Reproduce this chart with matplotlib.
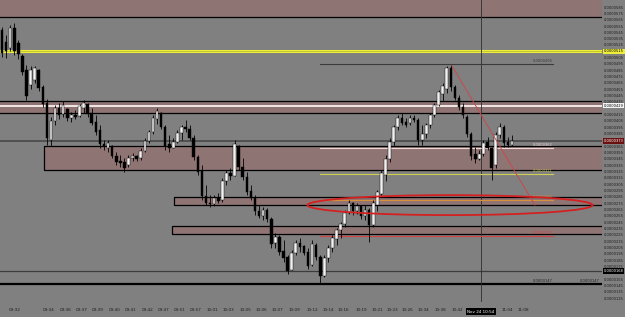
import matplotlib.pyplot as plt
from matplotlib.patches import Ellipse, Rectangle
import numpy as np

# candles, prices in units of 1e-7
opens = [548, 530, 520, 552, 528, 508, 485, 462, 470, 485, 458, 434, 375, 405, 425, 416, 424, 410, 415, 413,
         425, 432, 418, 404, 390, 368, 362, 366, 350, 341, 340, 335, 346, 350, 346, 358, 373, 388, 408, 418,
         396, 368, 363, 372, 386, 395, 392, 378, 348, 326, 287, 276, 274, 284, 280, 310, 322, 318, 366, 333,
         316, 294, 283, 262, 255, 265, 250, 212, 222, 200, 190, 169, 196, 212, 207, 198, 178, 209, 190, 160,
         188, 205, 218, 232, 242, 259, 275, 262, 270, 255, 265, 240, 272, 290, 320, 345, 372, 395, 410, 404,
         402, 410, 407, 375, 385, 398, 414, 430, 448, 455, 488, 458, 442, 427, 412, 385, 352, 345, 352, 372,
         362, 335, 383, 396, 372, 367]
highs = [553, 541, 557, 560, 533, 510, 493, 492, 492, 487, 462, 440, 412, 430, 433, 436, 426, 419, 422, 431,
         438, 433, 425, 414, 399, 375, 375, 367, 356, 351, 346, 351, 354, 351, 362, 378, 391, 414, 425, 419,
         399, 383, 378, 391, 399, 406, 399, 383, 351, 335, 304, 288, 288, 291, 315, 327, 331, 375, 367, 346,
         324, 304, 288, 272, 269, 267, 253, 228, 225, 217, 193, 201, 217, 220, 209, 204, 217, 212, 193, 193,
         209, 225, 236, 245, 264, 280, 277, 275, 272, 272, 267, 280, 296, 327, 351, 378, 399, 414, 418, 410,
         414, 414, 410, 399, 402, 418, 433, 454, 465, 492, 493, 462, 446, 433, 414, 387, 364, 359, 375, 380,
         364, 388, 401, 398, 380, 383]
lows = [506, 504, 515, 509, 503, 478, 438, 455, 465, 452, 427, 367, 366, 398, 408, 412, 405, 404, 408, 412,
        418, 412, 399, 383, 362, 359, 356, 346, 335, 332, 324, 332, 342, 342, 343, 356, 370, 385, 400, 392,
        359, 356, 362, 370, 375, 388, 375, 343, 320, 280, 272, 269, 271, 275, 277, 303, 312, 318, 327, 312,
        288, 280, 256, 251, 248, 245, 204, 205, 193, 182, 163, 169, 193, 198, 193, 171, 176, 185, 149, 158,
        182, 198, 209, 220, 238, 258, 256, 258, 250, 248, 214, 238, 262, 286, 310, 340, 365, 390, 398, 395,
        398, 403, 367, 367, 378, 394, 412, 428, 436, 449, 452, 438, 422, 410, 380, 343, 339, 343, 350, 359,
        312, 330, 378, 364, 364, 365]
closes = [512, 515, 552, 515, 510, 482, 445, 486, 488, 457, 432, 378, 405, 425, 415, 430, 410, 415, 412, 428,
          434, 416, 402, 388, 368, 365, 370, 349, 340, 338, 330, 346, 350, 345, 358, 373, 388, 410, 420, 396,
          365, 362, 372, 386, 395, 392, 378, 348, 325, 286, 276, 274, 284, 278, 310, 322, 318, 368, 332, 316,
          293, 283, 262, 255, 265, 250, 210, 222, 198, 188, 168, 196, 212, 206, 197, 176, 210, 190, 160, 188,
          205, 220, 232, 242, 259, 275, 262, 270, 255, 265, 240, 275, 292, 322, 345, 372, 395, 410, 402, 398,
          410, 407, 375, 385, 398, 414, 430, 450, 460, 488, 458, 442, 427, 414, 385, 350, 345, 352, 370, 362,
          330, 383, 396, 370, 367, 373]

time_pos = [3.2, 11.5, 15.7, 19.6, 23.5, 27.7, 31.6, 35.8, 39.5, 43.6, 47.5, 51.5, 55.6, 59.6, 63.7, 67.6,
            71.8, 76.0, 79.9, 83.8, 88.0, 91.9, 95.8, 99.5, 103.4, 107.4, 111.5, 123.8, 127.7]
time_labels = ["09:32", "09:34", "09:36", "09:37", "09:39", "09:40", "09:41", "09:42", "09:47", "09:51",
               "09:57", "10:01", "10:03", "10:05", "10:06", "10:07", "10:09", "10:12", "10:14", "10:16",
               "10:19", "10:21", "10:23", "10:26", "10:34", "10:38", "10:42", "11:04", "11:08"]

# highlighted price boxes on the scale: (value, face, text colour)
box_vals = [515, 429, 373, 168]
box_faces = ['#eeee3a', '#f4f4f4', '#6a1010', 'black']
box_text = ['black', 'black', 'white', 'white']
price_ticks = [v for v in range(585, 120, -10) if min(abs(v - b) for b in box_vals) > 5]

# zones: (start bar, low, high)
zones = [(-1, 569, 600), (-1, 418, 436), (10.3, 327, 365), (42.2, 272, 285), (41.7, 226, 239)]
# short level lines (y, colour, label)
short_levels = [(495, '#3a3a3a', '0.0000495'), (362, '#f2d6d6', '0.0000362'),
                (321, '#cfcf55', '0.0000321'), (280, '#d8903c', '0.0000280'),
                (223, '#d04545', '0.0000223')]

fig = plt.figure(figsize=(6.25, 3.17), dpi=100)
fig.patch.set_facecolor('#808080')
ax = fig.add_axes([0, 15 / 317, 602 / 625, 302 / 317])
ax.set_facecolor('#808080')
for s in ax.spines.values():
    s.set_visible(False)

x = np.arange(len(closes))
xmax = 147.06
ax.set_xlim(-0.49, xmax)
ax.set_ylim(118.9, 596.1)

# zones
for x0, lo, hi in zones:
    ax.add_patch(Rectangle((x0, lo), xmax + 2 - x0, hi - lo, facecolor='#8f7474',
                           edgecolor='black', lw=0.9, zorder=1))
ax.axhline(429, color='#f4e8e8', lw=1.4, zorder=2)
ax.axhline(515, color='#eeee3a', lw=2.2, zorder=2)
ax.axhline(515, color='#a8a838', lw=0.4, zorder=2)
ax.axhline(373, color='#505050', lw=1.4, zorder=2)
ax.axhline(168, color='#3c3c3c', lw=0.9, zorder=2)
ax.axhline(147, color='black', lw=1.6, zorder=2)
ax.axvline(117.4, color='#2e2e2e', lw=0.6, zorder=2)

for lvl, col, lab in short_levels:
    ax.plot([77.9, 135], [lvl, lvl], color=col, lw=0.8, zorder=2)
    ax.text(135, lvl + 1.5, lab, color=col, fontsize=2.6, ha='right', va='bottom', zorder=5)
ax.text(135, 148.5, '0.0000147', color='#202020', fontsize=2.6, ha='right', va='bottom', zorder=5)
ax.text(146.5, 148.5, '0.0000147', color='#202020', fontsize=2.6, ha='right', va='bottom', zorder=5)

# candles
o = np.array(opens)
c = np.array(closes)
up = c >= o
ax.vlines(x, lows, highs, color='black', lw=0.6, zorder=3)
ax.bar(x[up], (c - o)[up], bottom=o[up], width=0.62, color='#f2f2f2', edgecolor='black', lw=0.3, zorder=4)
ax.bar(x[~up], (o - c)[~up], bottom=c[~up], width=0.62, color='black', edgecolor='black', lw=0.3, zorder=4)

# drawings
ax.plot([110.3, 130.6], [492, 272], color='#c84a4a', lw=0.7, zorder=5)
ax.add_patch(Ellipse((109.8, 272), 69.9, 31.6, fill=False, edgecolor='#d42020', lw=1.3, zorder=5))

# price scale
ax.yaxis.tick_right()
ax.set_yticks(price_ticks)
ax.set_yticklabels([f"0.0000{v:03d}" for v in price_ticks])
ax.tick_params(axis='y', length=0, pad=1.5, labelsize=2.6, labelcolor='#1e1e1e')
ax.set_xticks(time_pos)
ax.set_xticklabels(time_labels)
ax.tick_params(axis='x', length=0, pad=4, labelsize=3, labelcolor='#1e1e1e')

for val, fc, tc in zip(box_vals, box_faces, box_text):
    ax.annotate(f"0.0000{val:03d}", xy=(1.003, val), xycoords=('axes fraction', 'data'), fontsize=2.6,
                color=tc, va='center', ha='left', annotation_clip=False,
                bbox=dict(boxstyle='square,pad=0.2', fc=fc, ec='none'))
ax.annotate('Nov 24 10:54', xy=(117.4, -0.025), xycoords=('data', 'axes fraction'), fontsize=3,
            color='white', ha='center', va='top', annotation_clip=False,
            bbox=dict(boxstyle='square,pad=0.35', fc='black', ec='none'))

plt.savefig('out.png', dpi=100, facecolor=fig.get_facecolor())
